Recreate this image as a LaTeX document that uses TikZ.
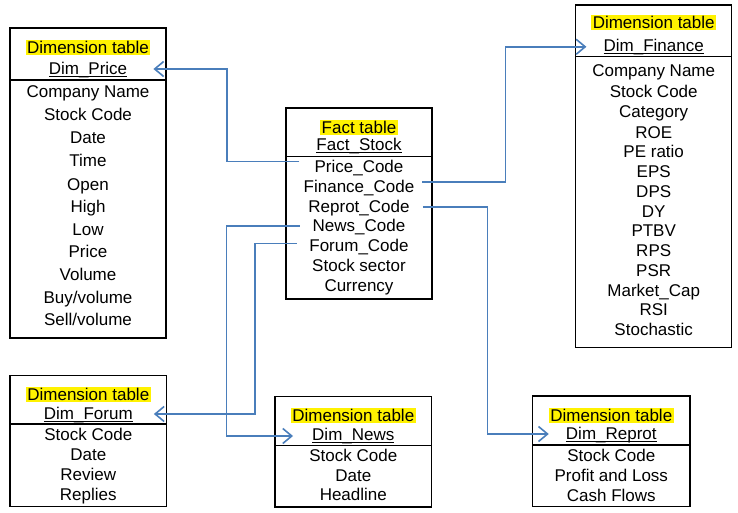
\documentclass[tikz,border=0pt]{standalone}
\usepackage{fontspec}
\setmainfont{Liberation Sans}
\usetikzlibrary{arrows.meta}
\definecolor{linkblue}{RGB}{74,126,187}
\newcommand\undr[1]{\setbox0\hbox{#1}\rlap{\vrule height -1.2pt depth 2.3pt width \wd0}\box0}

\begin{document}
\begin{tikzpicture}[x=1pt,y=-1pt]

      \tikzset{table/.style={draw, line width=1.1pt},
               field/.style={anchor=base, inner sep=0pt, font=\fontsize{17}{20}\selectfont},
               title/.style={field, fill=yellow, inner xsep=1.5pt, text height=13.3pt, text depth=1.7pt},
               link/.style={draw=linkblue, line width=1.6pt, -{Straight Barb[length=9pt,width=15pt]}}}
      \useasboundingbox (0,0) rectangle (738,513);

%% Tables
      	\draw[table] (10,28) rectangle (166,338);
      	\draw[table] (10,80) -- (166,80);
      	\draw[table] (286,108) rectangle (432,299);
      	\draw[table] (286,156.7) -- (432,156.7);
      	\draw[table] (575.7,5) rectangle (731.7,347.3);
      	\draw[table] (575.7,56.7) -- (731.7,56.7);
      	\draw[table] (10,375.7) rectangle (166.7,506.7);
      	\draw[table] (10,424) -- (166.7,424);
      	\draw[table] (275,396.7) rectangle (431.7,507);
      	\draw[table] (275,445.7) -- (431.7,445.7);
      	\draw[table] (532.7,396) rectangle (690,506.7);
      	\draw[table] (532.7,445) -- (690,445);

%% Dim_Price
      	\node[title] (tprice) at (88,53.3) {Dimension table};
      	\node[field] (dprice) at (88,75) {\undr{Dim\_Price}};
      	\node[field] (p1) at (88,98) {Company Name};
      	\node[field] (p2) at (88,121) {Stock Code};
      	\node[field] (p3) at (88,144) {Date};
      	\node[field] (p4) at (88,166.5) {Time};
      	\node[field] (p5) at (88,190) {Open};
      	\node[field] (p6) at (88,212.5) {High};
      	\node[field] (p7) at (88,235) {Low};
      	\node[field] (p8) at (88,257.5) {Price};
      	\node[field] (p9) at (88,280.5) {Volume};
      	\node[field] (p10) at (88,303) {Buy/volume};
      	\node[field] (p11) at (88,325.5) {Sell/volume};

%% Fact_Stock
      	\node[title] (tfact) at (359,133.3) {Fact table};
      	\node[field] (dfact) at (359,151) {\undr{Fact\_Stock}};
      	\node[field] (pcode) at (359,172.2) {Price\_Code};
      	\node[field] (fcode) at (359,192.2) {Finance\_Code};
      	\node[field] (rcode) at (359,212.2) {Reprot\_Code};
      	\node[field] (ncode) at (359,231.5) {News\_Code};
      	\node[field] (mcode) at (359,251.5) {Forum\_Code};
      	\node[field] (s6) at (359,271.5) {Stock sector};
      	\node[field] (s7) at (359,291.2) {Currency};

%% Dim_Finance
      	\node[title] (tfin) at (653.7,28.3) {Dimension table};
      	\node[field] (dfin) at (653.7,51.8) {\undr{Dim\_Finance}};
      	\node[field] (f1) at (653.7,76.5) {Company Name};
      	\node[field] (f2) at (653.7,97.2) {Stock Code};
      	\node[field] (f3) at (653.7,117.5) {Category};
      	\node[field] (f4) at (653.7,138.2) {ROE};
      	\node[field] (f5) at (653.7,157.9) {PE ratio};
      	\node[field] (f6) at (653.7,177.7) {EPS};
      	\node[field] (f7) at (653.7,197.4) {DPS};
      	\node[field] (f8) at (653.7,217.1) {DY};
      	\node[field] (f9) at (653.7,236.9) {PTBV};
      	\node[field] (f10) at (653.7,256.6) {RPS};
      	\node[field] (f11) at (653.7,276.3) {PSR};
      	\node[field] (f12) at (653.7,296) {Market\_Cap};
      	\node[field] (f13) at (653.7,315.8) {RSI};
      	\node[field] (f14) at (653.7,335.5) {Stochastic};

%% Dim_Forum
      	\node[title] (tforum) at (88.3,400.5) {Dimension table};
      	\node[field] (dforum) at (88.3,419.8) {\undr{Dim\_Forum}};
      	\node[field] (m1) at (88.3,440.5) {Stock Code};
      	\node[field] (m2) at (88.3,460.5) {Date};
      	\node[field] (m3) at (88.3,480.5) {Review};
      	\node[field] (m4) at (88.3,500.5) {Replies};

%% Dim_News
      	\node[title] (tnews) at (353.3,421.2) {Dimension table};
      	\node[field] (dnews) at (353.3,440.3) {\undr{Dim\_News}};
      	\node[field] (n1) at (353.3,461.5) {Stock Code};
      	\node[field] (n2) at (353.3,481.5) {Date};
      	\node[field] (n3) at (353.3,500.5) {Headline};

%% Dim_Reprot
      	\node[title] (trep) at (611.3,421.5) {Dimension table};
      	\node[field] (drep) at (611.3,439.7) {\undr{Dim\_Reprot}};
      	\node[field] (r1) at (611.3,461.2) {Stock Code};
      	\node[field] (r2) at (611.3,481.2) {Profit and Loss};
      	\node[field] (r3) at (611.3,501.2) {Cash Flows};

%Links
		\draw[link] ([xshift=-15pt,yshift=10.5pt]pcode.base west) -- ++(-72.3,0) |- ([xshift=26pt,yshift=6pt]dprice.base east);
		\draw[link] ([xshift=8pt,yshift=10.5pt]fcode.base east) -- ++(83,0) |- ([xshift=-17pt,yshift=5pt]dfin.base west);
		\draw[link] ([xshift=13pt,yshift=5.5pt]rcode.base east) -- ++(64.7,0) |- ([xshift=-17pt,yshift=5.7pt]drep.base west);
		\draw[link] ([xshift=-13pt,yshift=5.8pt]ncode.base west) -- ++(-73,0) |- ([xshift=-19pt,yshift=4.3pt]dnews.base west);
		\draw[link] ([xshift=-12.6pt,yshift=8.2pt]mcode.base west) -- ++(-41.7,0) |- ([xshift=21pt,yshift=5.8pt]dforum.base east);

	\end{tikzpicture}
\end{document}
